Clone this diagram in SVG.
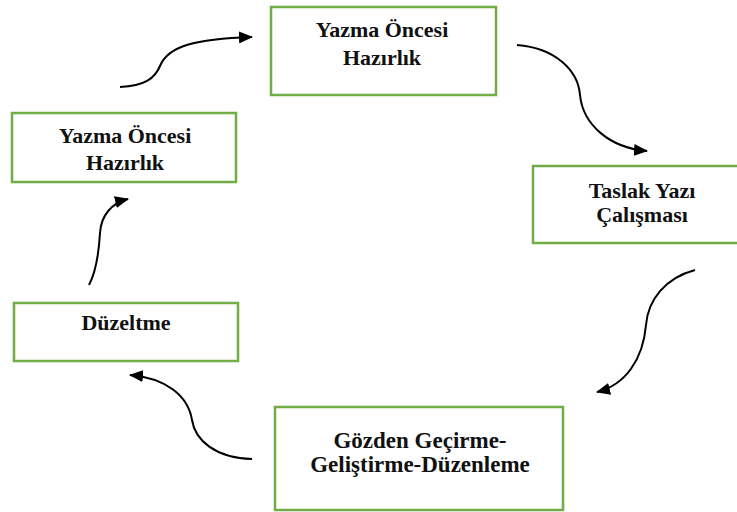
<svg xmlns="http://www.w3.org/2000/svg" width="737" height="512" viewBox="0 0 737 512">
<defs>
<style>
.box{fill:#ffffff;stroke:#70ad47;stroke-width:2.5}
.lbl{font-family:"Liberation Serif","Times New Roman",serif;font-weight:bold;font-size:22px;fill:#111111;text-anchor:middle}
.big{font-size:23px}
.arr{fill:none;stroke:#000000;stroke-width:2;marker-end:url(#ah)}
</style>
<marker id="ah" markerUnits="userSpaceOnUse" markerWidth="14" markerHeight="12" refX="13" refY="6" orient="auto" viewBox="0 0 14 12">
<path d="M0,0 L14,6 L0,12 Z" fill="#000000"/>
</marker>
</defs>
<rect width="737" height="512" fill="#ffffff"/>
<g id="connectors">
<path class="arr" d="M120,87 C145,86 155,78 160,66 C168,46 195,39 252,37"/>
<path class="arr" d="M517,45 C555,48 578,70 580,95 C583,125 610,148 647,151"/>
<path class="arr" d="M695,270 C665,278 648,300 646,325 C643,360 625,385 597,392"/>
<path class="arr" d="M252,459 C215,458 195,440 192,420 C188,395 165,378 130,375"/>
<path class="arr" d="M89,285 C97,270 99,250 100,233 C101,215 112,203 128,199"/>
</g>
<g id="node-top">
<rect class="box" x="271" y="7" width="225" height="88"/>
<text class="lbl" x="382" y="37">Yazma Öncesi</text>
<text class="lbl" x="382" y="65">Hazırlık</text>
</g>
<g id="node-taslak">
<rect class="box" x="533" y="166" width="210" height="77"/>
<text class="lbl" x="642" y="198">Taslak Yazı</text>
<text class="lbl" x="642" y="222">Çalışması</text>
</g>
<g id="node-gozden">
<rect class="box" x="275" y="407" width="288" height="103"/>
<text class="lbl big" x="420" y="448">Gözden Geçirme-</text>
<text class="lbl big" x="420" y="472">Geliştirme-Düzenleme</text>
</g>
<g id="node-duzeltme">
<rect class="box" x="14" y="303" width="224" height="58"/>
<text class="lbl" x="126" y="330">Düzeltme</text>
</g>
<g id="node-left">
<rect class="box" x="12" y="113" width="224" height="69"/>
<text class="lbl" x="125" y="143">Yazma Öncesi</text>
<text class="lbl" x="125" y="170">Hazırlık</text>
</g>
</svg>
